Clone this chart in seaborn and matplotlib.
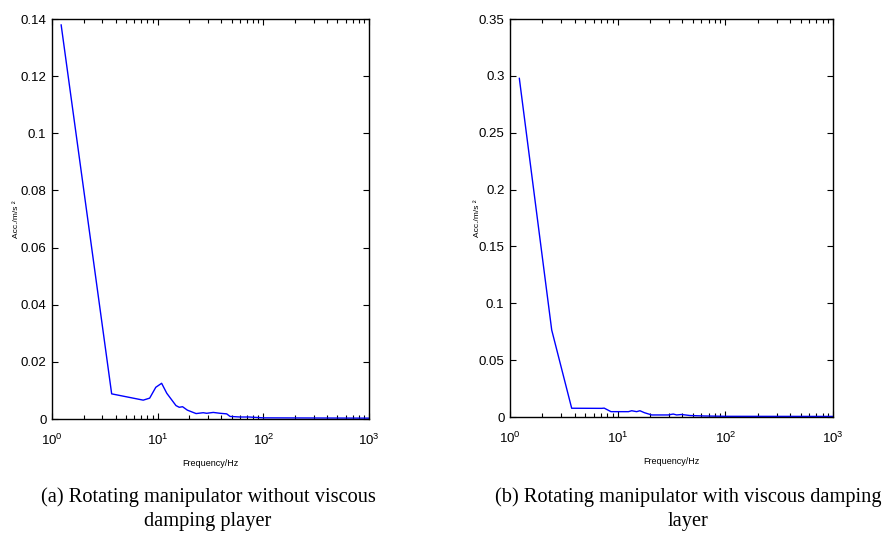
import matplotlib
matplotlib.use("Agg")
import matplotlib.pyplot as plt
import seaborn as sns
import pandas as pd
import numpy as np
from matplotlib.ticker import LogLocator, NullFormatter, FixedLocator, FixedFormatter

# ---- data ----
freq_a = [1.22, 3.67, 7.3, 8.4, 9.6, 10.9, 12.2, 14.9, 16.0, 17.2, 19.1, 23.1, 27.0,
          29.1, 33.6, 38.9, 45.0, 48.4, 60.0, 73.0, 100, 1000]
acc_a = [0.138, 0.0088, 0.0066, 0.0073, 0.0111, 0.0125, 0.0090, 0.0047, 0.0041, 0.0043,
         0.0031, 0.0019, 0.0022, 0.0020, 0.0023, 0.0020, 0.0018, 0.0009, 0.0007, 0.0007,
         0.0004, 0.0003]

freq_b = [1.22, 2.44, 3.74, 7.1, 7.5, 8.67, 12.6, 13.5, 15.0, 16.1, 17.7, 20.7, 29.5,
          32.8, 35.3, 39.3, 46.9, 63.7, 100, 1000]
acc_b = [0.298, 0.0765, 0.0077, 0.0076, 0.0078, 0.0047, 0.0047, 0.0055, 0.0047, 0.0055,
         0.0038, 0.0018, 0.0018, 0.0026, 0.0018, 0.0022, 0.0013, 0.0009, 0.0006, 0.0005]

yticks_a = [0, 0.02, 0.04, 0.06, 0.08, 0.1, 0.12, 0.14]
ylabels_a = ["0", "0.02", "0.04", "0.06", "0.08", "0.1", "0.12", "0.14"]
yticks_b = [0, 0.05, 0.1, 0.15, 0.2, 0.25, 0.3, 0.35]
ylabels_b = ["0", "0.05", "0.1", "0.15", "0.2", "0.25", "0.3", "0.35"]
xticks = [1, 10, 100, 1000]
xlabels = [r"$\mathregular{10^{0}}$", r"$\mathregular{10^{1}}$",
           r"$\mathregular{10^{2}}$", r"$\mathregular{10^{3}}$"]

captions = ["(a) Rotating manipulator without viscous\ndamping player",
            "(b) Rotating manipulator with viscous damping\nlayer"]
xlabel_text = "Frequency/Hz"
ylabel_text = "Acc./m/s ²"

sns.set_style("ticks")
plt.rcParams["font.family"] = ["Liberation Sans", "DejaVu Sans"]
plt.rcParams["mathtext.fontset"] = "custom"
plt.rcParams["mathtext.rm"] = "Liberation Sans"
plt.rcParams["text.color"] = "black"
plt.rcParams["axes.labelcolor"] = "black"

fig = plt.figure(figsize=(8.9, 5.39), dpi=100)
ax_a = fig.add_axes([52/890, 1-419/539, 317/890, 400/539])
ax_b = fig.add_axes([510/890, 1-417/539, 323/890, 398/539])

df_a = pd.DataFrame({"f": freq_a, "acc": acc_a})
df_b = pd.DataFrame({"f": freq_b, "acc": acc_b})

for ax, df, yt, yl, ymax, cap, cx, ylx, xly in [
        (ax_a, df_a, yticks_a, ylabels_a, 0.14, captions[0], 208/890, -0.10, -0.10),
        (ax_b, df_b, yticks_b, ylabels_b, 0.35, captions[1], 688/890, -0.09, -0.10)]:
    sns.lineplot(data=df, x="f", y="acc", ax=ax, color="#0000ff", linewidth=1.0,
                 sort=False, estimator=None)
    ax.set_xscale("log")
    ax.set_xlim(1, 1000)
    ax.set_ylim(0, ymax)
    ax.xaxis.set_major_locator(FixedLocator(xticks))
    ax.xaxis.set_major_formatter(FixedFormatter(xlabels))
    ax.xaxis.set_minor_locator(LogLocator(base=10, subs=np.arange(2, 10), numticks=20))
    ax.xaxis.set_minor_formatter(NullFormatter())
    ax.yaxis.set_major_locator(FixedLocator(yt))
    ax.yaxis.set_major_formatter(FixedFormatter(yl))
    ax.tick_params(axis="both", which="major", direction="in", length=4, width=0.8,
                   top=True, right=True, labelsize=9.5, colors="black")
    ax.tick_params(axis="x", which="major", pad=10)
    ax.tick_params(axis="y", which="major", pad=4)
    ax.tick_params(axis="x", which="minor", direction="in", length=3, width=0.8,
                   top=True, bottom=True, colors="black")
    ax.tick_params(axis="y", which="minor", left=False, right=False)
    for s in ax.spines.values():
        s.set_visible(True)
        s.set_linewidth(1.0)
        s.set_color("black")
    ax.set_xlabel(xlabel_text, fontsize=6.5, color="black")
    ax.set_ylabel(ylabel_text, fontsize=6, color="black")
    ax.yaxis.set_label_coords(ylx, 0.5)
    ax.xaxis.set_label_coords(0.5, xly)
    fig.text(cx, 1-509/539, cap, ha="center", va="center", fontsize=14.7, color="black",
             family=["Liberation Serif", "DejaVu Serif"], linespacing=1.4)

fig.savefig("out.png", dpi=100)
